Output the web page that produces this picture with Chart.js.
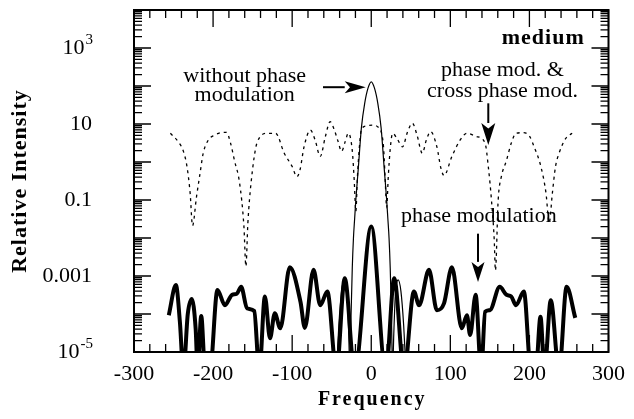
<!DOCTYPE html>
<html>
<head>
<meta charset="utf-8">
<script src="https://cdn.jsdelivr.net/npm/chart.js@4.4.0/dist/chart.umd.min.js"></script>
<style>
    body { margin: 0; background: #fff; }
    #wrap { width: 634px; height: 419px; }
</style>
</head>
<body>
<div id="wrap"><canvas id="spectrum" width="634" height="419"></canvas></div>
<script>
// phase mod. & cross phase mod. (dashed)
const freqCross = [-254, -244, -237.5, -233, -229, -226, -221, -216.5, -212.5, -206, -198, -190, -183, -178, -173, -166.5, -161, -158.5, -156, -152, -144, -131, -121, -110, -100, -94, -90, -85, -77, -71, -64.5, -58, -52, -46, -42, -37.5, -33, -29, -24, -21.5, -19.5, -17.5, -15, -12.5, -6, 2, 8, 12.5, 15.5, 17.5, 19.5, 21.5, 24, 27, 33, 39.5, 46, 52, 58, 64.5, 70, 75, 83, 88, 92, 102, 112.5, 121, 133, 144, 148, 152, 155.5, 157, 160.5, 164.5, 171, 177, 183, 192, 200, 206, 214.5, 221, 225, 229, 233, 237.5, 246, 254];
const intensityCross = [5.7, 3.4, 1.9, 0.76, 0.15, 0.021, 0.12, 0.5, 1.7, 3.8, 5.1, 5.9, 6.0, 3.2, 1.1, 0.28, 0.02, 0.0018, 0.025, 0.28, 3.4, 5.7, 5.7, 1.7, 0.76, 0.41, 0.63, 2.5, 6.9, 3.8, 1.4, 4.7, 11.5, 6.3, 3.5, 1.9, 3.4, 5.7, 2.0, 0.32, 0.05, 0.4, 2.5, 7.1, 8.9, 9.3, 8.5, 6.3, 2.5, 0.4, 0.063, 0.4, 2.2, 5.7, 4.0, 2.5, 6.3, 10.5, 5.0, 1.7, 4.0, 6.3, 2.5, 0.7, 0.44, 1.4, 3.8, 5.7, 4.7, 3.1, 0.76, 0.1, 0.009, 0.0014, 0.1, 0.41, 1.1, 3.1, 5.7, 5.9, 4.8, 2.5, 0.76, 0.15, 0.025, 0.15, 0.76, 1.7, 4.2, 5.7];

// without phase modulation (thin solid)
const freqNoMod = [-44, -41, -37.5, -34, -30.5, -28.5, -27, -25.5, -24, -22.5, -21, -19.5, -16.5, -12.5, -8.3, -4, 0, 4, 8.3, 12.5, 16.5, 19.5, 21, 22.5, 24, 25.5, 27, 28.5, 30.5, 34, 37.5, 41, 44];
const intensityNoMod = [3e-6, 5e-5, 4e-4, 7.9e-4, 3.2e-4, 3e-5, 3e-6, 1e-4, 1.6e-3, 0.01, 0.032, 0.1, 0.63, 7.8, 35, 89, 129, 89, 35, 7.8, 0.63, 0.1, 0.032, 0.01, 1.6e-3, 1e-4, 3e-6, 3e-5, 3.2e-4, 7.9e-4, 4e-4, 5e-5, 3e-6];

// phase modulation (thick solid)
const freqPhaseMod = [-256, -247, -242, -237.5, -232, -227, -222, -219.5, -215, -210, -204, -194.5, -185, -176, -170, -164.5, -157, -148, -141.5, -134.5, -128, -122, -115, -103, -89.5, -84, -73, -64.5, -55.5, -44, -33.5, -21, 0, 18.5, 29, 41.5, 54, 60.5, 73, 83, 92, 102, 114.5, 121, 125, 132, 139, 144, 150, 162.5, 171, 177, 183, 193, 202, 208, 214, 219, 227, 237.5, 247, 258];
const intensityPhaseMod = [9.3e-5, 5.8e-4, 6.3e-5, 3e-6, 1e-4, 2.5e-4, 4e-5, 3e-6, 8.9e-5, 3e-6, 3e-6, 4.3e-4, 1.7e-4, 3.2e-4, 3.4e-4, 5.2e-4, 1.4e-4, 1.2e-4, 3e-6, 2.9e-4, 2.3e-5, 1.05e-4, 4.2e-5, 1.7e-3, 2.1e-4, 4.3e-5, 1.45e-3, 1.7e-4, 3.9e-4, 3e-6, 8.7e-4, 3e-6, 0.02, 3e-6, 8.7e-4, 3e-6, 3.9e-4, 1.7e-4, 1.45e-3, 1.26e-4, 1.9e-4, 1.7e-3, 4.2e-5, 9.3e-5, 2.8e-5, 3.2e-4, 3e-6, 1.15e-4, 1.26e-4, 5.2e-4, 3.2e-4, 2.9e-4, 1.7e-4, 3.9e-4, 3e-6, 3e-6, 8.5e-5, 3e-6, 2.3e-4, 3e-6, 5.2e-4, 7.9e-5];

// axis ticks
const xTickValues = [-300, -200, -100, 0, 100, 200, 300];
const yTickValues = [1e-5, 1e-3, 0.1, 10, 1e3];
const yTickMantissa = ["10", "0.001", "0.1", "10", "10"];
const yTickExponent = ["-5", "", "", "", "3"];

const serif = "'Liberation Serif', 'Times New Roman', serif";

function toPoints(xs, ys) {
    return xs.map((x, i) => ({ x: x, y: ys[i] }));
}

function drawArrow(ctx, x1, y1, x2, y2, headLen, headHalf) {
    const ang = Math.atan2(y2 - y1, x2 - x1);
    const bx = x2 - headLen * Math.cos(ang);
    const by = y2 - headLen * Math.sin(ang);
    ctx.beginPath();
    ctx.moveTo(x1, y1);
    ctx.lineTo(bx, by);
    ctx.stroke();
    ctx.beginPath();
    ctx.moveTo(x2, y2);
    ctx.lineTo(bx + headHalf * Math.sin(ang), by - headHalf * Math.cos(ang));
    ctx.lineTo(bx + headLen * 0.25 * Math.cos(ang), by + headLen * 0.25 * Math.sin(ang));
    ctx.lineTo(bx - headHalf * Math.sin(ang), by + headHalf * Math.cos(ang));
    ctx.closePath();
    ctx.fill();
}

// frame, inward ticks, labels and notes
const framePlugin = {
    id: "framePlugin",
    afterDatasetsDraw(chart) {
        const { ctx, chartArea: a, scales: { x, y } } = chart;
        ctx.save();
        ctx.strokeStyle = "#000";
        ctx.fillStyle = "#000";

        // ticks on all four sides
        ctx.lineWidth = 1.3;
        ctx.beginPath();
        for (let v = -300; v <= 300; v += 20) {
            const px = x.getPixelForValue(v);
            const len = v % 100 === 0 ? 17 : 8;
            ctx.moveTo(px, a.bottom); ctx.lineTo(px, a.bottom - len);
            ctx.moveTo(px, a.top); ctx.lineTo(px, a.top + len);
        }
        for (let e = -5; e < 4; e++) {
            for (let m = 1; m < 10; m++) {
                const py = y.getPixelForValue(m * Math.pow(10, e));
                const len = m === 1 ? 17 : 8;
                ctx.moveTo(a.left, py); ctx.lineTo(a.left + len, py);
                ctx.moveTo(a.right, py); ctx.lineTo(a.right - len, py);
            }
        }
        ctx.stroke();

        ctx.lineWidth = 2;
        ctx.strokeRect(a.left, a.top, a.right - a.left, a.bottom - a.top);

        // y tick labels with superscripts
        const labelRight = a.left - 42;
        ctx.textBaseline = "middle";
        ctx.textAlign = "right";
        yTickValues.forEach((v, i) => {
            const py = y.getPixelForValue(v);
            let right = labelRight;
            if (yTickExponent[i]) {
                ctx.font = `15px ${serif}`;
                ctx.fillText(yTickExponent[i], right + 1, py - 8);
                right -= ctx.measureText(yTickExponent[i]).width;
            }
            ctx.font = `22px ${serif}`;
            ctx.fillText(yTickMantissa[i], right, py);
        });

        // axis titles
        ctx.textAlign = "center";
        ctx.textBaseline = "alphabetic";
        ctx.font = `bold 22px ${serif}`;
        ctx.save();
        ctx.translate(26, (a.top + a.bottom) / 2);
        ctx.rotate(-Math.PI / 2);
        ctx.letterSpacing = "1px";
        ctx.fillText("Relative Intensity", 0, 0);
        ctx.restore();

        ctx.font = `bold 20px ${serif}`;
        ctx.letterSpacing = "2px";
        ctx.fillText("Frequency", (a.left + a.right) / 2 + 1, 405);
        ctx.letterSpacing = "1px";
        ctx.textAlign = "right";
        ctx.font = `bold 22px ${serif}`;
        ctx.fillText("medium", x.getPixelForValue(270), y.getPixelForValue(1300));
        ctx.letterSpacing = "0px";

        // notes
        ctx.textAlign = "center";
        ctx.font = `22px ${serif}`;
        ctx.fillText("without phase", x.getPixelForValue(-160), y.getPixelForValue(130));
        ctx.fillText("modulation", x.getPixelForValue(-160), y.getPixelForValue(40));
        ctx.fillText("phase mod. &", x.getPixelForValue(166), y.getPixelForValue(180));
        ctx.fillText("cross phase mod.", x.getPixelForValue(166), y.getPixelForValue(52));
        ctx.fillText("phase modulation", x.getPixelForValue(136), y.getPixelForValue(0.026));

        ctx.lineWidth = 2;
        drawArrow(ctx, x.getPixelForValue(-61), y.getPixelForValue(93),
            x.getPixelForValue(-7), y.getPixelForValue(93), 21, 6);
        drawArrow(ctx, x.getPixelForValue(148), y.getPixelForValue(35),
            x.getPixelForValue(148), y.getPixelForValue(2.8), 22, 7);
        drawArrow(ctx, x.getPixelForValue(135), y.getPixelForValue(0.013),
            x.getPixelForValue(135), y.getPixelForValue(7e-4), 20, 6.5);
        ctx.restore();
    }
};

const ctx = document.getElementById("spectrum").getContext("2d");

new Chart(ctx, {
    type: "line",
    data: {
        datasets: [
            {
                label: "phase mod. & cross phase mod.",
                data: toPoints(freqCross, intensityCross),
                borderColor: "#000",
                borderWidth: 1.3,
                borderDash: [3, 4],
                cubicInterpolationMode: "monotone",
                clip: 0
            },
            {
                label: "without phase modulation",
                data: toPoints(freqNoMod, intensityNoMod),
                borderColor: "#000",
                borderWidth: 1.2,
                cubicInterpolationMode: "monotone",
                clip: 0
            },
            {
                label: "phase modulation",
                data: toPoints(freqPhaseMod, intensityPhaseMod),
                borderColor: "#000",
                borderWidth: 4,
                cubicInterpolationMode: "monotone",
                clip: 0
            }
        ]
    },
    options: {
        responsive: false,
        animation: false,
        layout: { padding: { top: 10, right: 20, bottom: 0, left: 0 } },
        elements: { point: { radius: 0 } },
        plugins: {
            legend: { display: false },
            tooltip: { enabled: false }
        },
        scales: {
            x: {
                type: "linear",
                min: -300,
                max: 300,
                grid: { display: false, drawTicks: false },
                border: { display: false },
                ticks: {
                    stepSize: 100,
                    autoSkip: false,
                    maxRotation: 0,
                    padding: 9,
                    color: "#000",
                    font: { family: serif, size: 22 }
                },
                afterBuildTicks: (scale) => {
                    scale.ticks = xTickValues.map(v => ({ value: v }));
                },
                afterFit: (scale) => { scale.height = 67; }
            },
            y: {
                type: "logarithmic",
                min: 1e-5,
                max: 1e4,
                grid: { display: false, drawTicks: false },
                border: { display: false },
                ticks: { display: false },
                afterFit: (scale) => { scale.width = 134; }
            }
        }
    },
    plugins: [framePlugin]
});
</script>
</body>
</html>
